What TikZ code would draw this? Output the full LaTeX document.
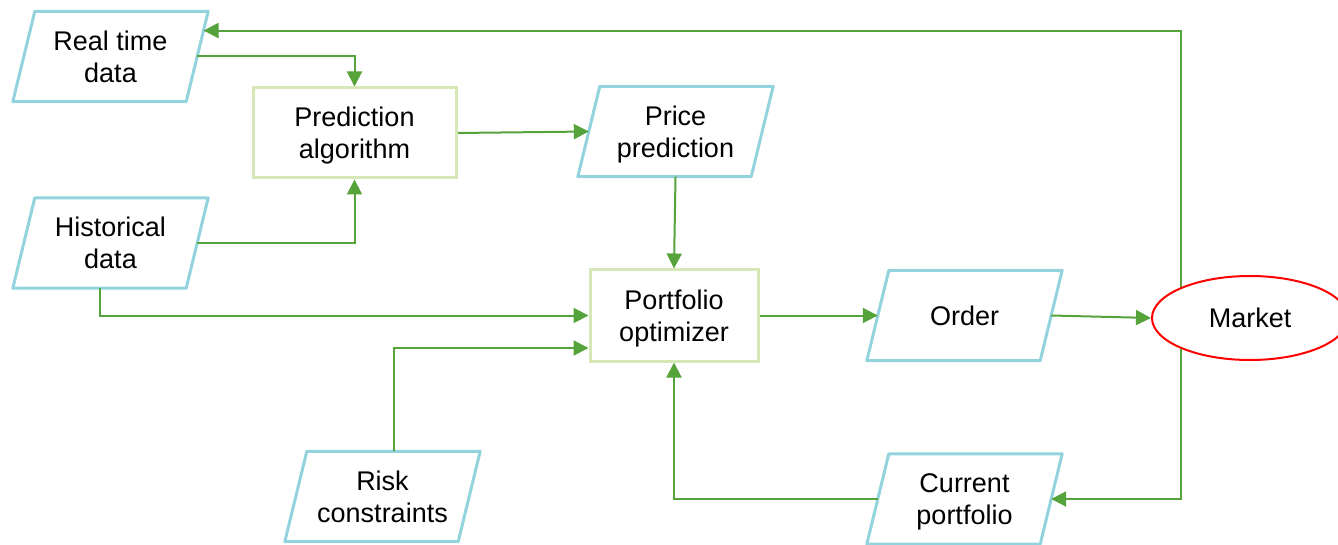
\documentclass[tikz,border=0pt]{standalone}
\usepackage{fontspec}
\setmainfont{Liberation Sans}
\usetikzlibrary{arrows.meta,calc,shapes.geometric,backgrounds}

\definecolor{databorder}{HTML}{93D3DD}
\definecolor{procborder}{HTML}{D6E8B6}
\definecolor{flowgreen}{HTML}{55A33A}
\definecolor{marketred}{HTML}{FF0000}

\tikzset{
  txt/.style={font=\fontsize{27}{32}\selectfont, align=center, inner sep=0pt,
    text depth=0pt},
  datanode/.style={txt, minimum width=173pt, minimum height=90pt},
  procnode/.style={txt, draw=procborder, line width=3pt, fill=white},
  paraline/.style={draw=databorder, line width=3pt, line join=round, fill=white},
  marketnode/.style={txt, ellipse, draw=marketred, line width=2pt, fill=white,
    minimum width=196pt, minimum height=84pt},
  flow/.style={draw=flowgreen, line width=2pt,
    -{Triangle[length=15pt,width=15pt]}},
}

% parallelogram outline behind a data node (skew of 11pt on each side)
\newcommand\paraframe[1]{%
  \path[paraline] ([xshift=11pt]#1.north west) -- ([xshift=11pt]#1.north east)
    -- ([xshift=-11pt]#1.south east) -- ([xshift=-11pt]#1.south west) -- cycle;}

\begin{document}
\begin{tikzpicture}[x=1pt,y=-1pt]
\useasboundingbox (0,0) rectangle (1338,545);

% data (input/output) nodes
\node[datanode] (rt) at (110.5,56.5) {Real time\\data};
\node[datanode] (hd) at (110.5,243) {Historical\\data};
\node[datanode] (pp) at (675.5,131.5) {Price\\prediction};
\node[datanode] (od) at (964.5,315.5) {Order};
\node[datanode] (rc) at (382.5,496.5) {Risk\\constraints};
\node[datanode] (cp) at (964.5,499) {Current\\portfolio};

% process nodes
\node[procnode, minimum width=203pt, minimum height=90pt] (pa) at (354.5,133) {Prediction\\algorithm};
\node[procnode, minimum width=168pt, minimum height=91pt] (po) at (674,315.5) {Portfolio\\optimizer};

% market
\node[marketnode] (mk) at (1250,318) {Market};

\begin{scope}[on background layer]
  \paraframe{rt}
  \paraframe{hd}
  \paraframe{pp}
  \paraframe{od}
  \paraframe{rc}
  \paraframe{cp}
\end{scope}

% connectors
\begin{scope}[on background layer]
  \draw[flow] ([xshift=-69pt]mk.center) |-
    ($([xshift=11pt]rt.north east)!0.213!([xshift=-11pt]rt.south east)$);
  \draw[flow] ([xshift=-69pt]mk.center) |- (cp.east);
  \draw[flow] (rt.east) -| (pa.north);
  \draw[flow] (hd.east) -| (pa.south);
  \draw[flow] (pa.east) -- (pp.west);
  \draw[flow] (pp.south) -- (po.north);
  \draw[flow] ([xshift=-11pt]hd.south) |- (po.west);
  \draw[flow] ([xshift=11pt]rc.north) |- ([yshift=-32.5pt]po.west);
  \draw[flow] (po.east) -- (od.west);
  \draw[flow] (od.east) -- (mk.west);
  \draw[flow] (cp.west) -| (po.south);
\end{scope}
\end{tikzpicture}
\end{document}
